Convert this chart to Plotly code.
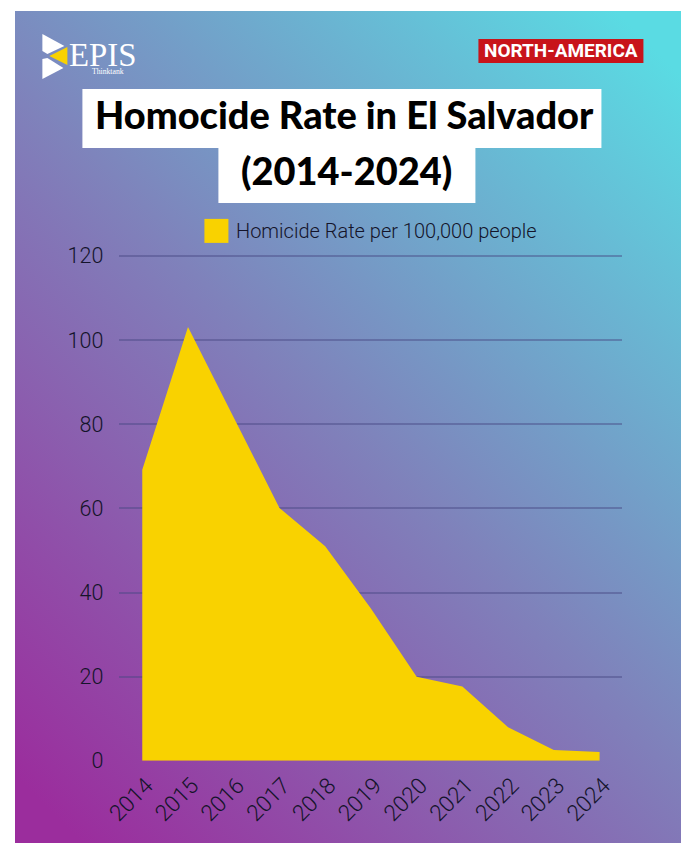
import base64
import plotly.graph_objects as go

W, H = 683, 856

years = ['2014', '2015', '2016', '2017', '2018', '2019', '2020', '2021', '2022', '2023', '2024']
rates = [69.2, 103.1, 81.6, 60.1, 51.0, 36.2, 20.0, 17.7, 8.0, 2.6, 2.1]
series_name = 'Homicide Rate per 100,000 people'
y_ticks = [0, 20, 40, 60, 80, 100, 120]
title_line1 = 'Homocide Rate in El Salvador'
title_line2 = '(2014-2024)'
region_tag = 'NORTH-AMERICA'

YELLOW = '#F9D200'
INK = '#14142a'

# mapping from target-picture pixels to page pixels (the photo is slightly scaled/offset)
SX, OX, SY, OY = 0.978, 13.6, 0.972, 11.1


def rx(x):
    return ((x - OX) / SX) / W


def ry(y):
    return 1 - ((y - OY) / SY) / H


def fs(size):
    return size / ((SX + SY) / 2)


svg = (
    f'<svg xmlns="http://www.w3.org/2000/svg" width="{W}" height="{H}" viewBox="0 0 {W} {H}" '
    'preserveAspectRatio="none"><defs><linearGradient id="g" x1="0.1" y1="1" x2="0.9" y2="0">'
    '<stop offset="0" stop-color="#9b2d9d"/>'
    '<stop offset="0.5" stop-color="#7f82bb"/>'
    '<stop offset="1" stop-color="#5adbe3"/>'
    f'</linearGradient></defs><rect width="{W}" height="{H}" fill="url(#g)"/></svg>'
)
svg_uri = 'data:image/svg+xml;base64,' + base64.b64encode(svg.encode()).decode()

fig = go.Figure()
fig.add_trace(go.Scatter(
    x=years, y=rates, mode='lines', fill='tozeroy',
    line=dict(width=0, color=YELLOW), fillcolor=YELLOW,
    name=series_name, showlegend=False, hoverinfo='x+y'
))


def rect(x0, y0, x1, y1, color):
    return dict(type='rect', xref='paper', yref='paper', x0=rx(x0), x1=rx(x1), y0=ry(y1), y1=ry(y0),
                fillcolor=color, line=dict(width=0))


def poly(pts, color):
    d = 'M ' + ' L '.join(f'{rx(x):.5f},{ry(y):.5f}' for x, y in pts) + ' Z'
    return dict(type='path', xref='paper', yref='paper', path=d, fillcolor=color, line=dict(width=0))


shapes = [
    rect(81, 89, 600, 148, 'white'),
    rect(217, 147, 474, 203, 'white'),
    rect(477, 39, 642, 63, '#c8141a'),
    rect(203, 219, 227, 243, YELLOW),
    poly([(41, 34), (63, 46), (46, 54), (41, 51)], 'white'),
    poly([(48, 56), (66, 47), (66, 65)], YELLOW),
    poly([(41, 59), (46, 58), (62, 68), (41, 79)], 'white'),
]


def ann(text, x, y, size, family, color, weight=400, xanchor='center'):
    return dict(text=text, x=rx(x), y=ry(y), xref='paper', yref='paper', showarrow=False,
                xanchor=xanchor, yanchor='middle',
                font=dict(family=family, size=fs(size), color=color, weight=weight))


annotations = [
    ann(title_line1, 343, 115, 37, 'Lato', 'black', 900),
    ann(title_line2, 345, 171, 37, 'Lato', 'black', 900),
    ann(region_tag, 560, 51, 18.5, 'Roboto', 'white', 700),
    ann(series_name, 233, 231, 19.5, 'Roboto', INK, 300, 'left'),
    ann('EPIS', 66, 55, 32, 'Liberation Serif', 'white', 400, 'left'),
    ann('Thinktank', 89, 72, 7.5, 'Liberation Serif', 'white', 400, 'left'),
]

y_top_val = 120.4
ppu = (761 - 256) / 120
r_top = 761 - y_top_val * ppu

fig.update_layout(
    width=W, height=H,
    margin=dict(l=0, r=0, t=0, b=0),
    paper_bgcolor='white',
    plot_bgcolor='rgba(0,0,0,0)',
    showlegend=False,
    images=[dict(source=svg_uri, xref='paper', yref='paper', x=0, y=1,
                 sizex=1, sizey=1, sizing='stretch', xanchor='left', yanchor='top',
                 layer='below')],
    shapes=shapes,
    annotations=annotations,
    xaxis=dict(domain=[rx(118), rx(621)], type='category', range=[-0.5, 10.5],
               showgrid=False, zeroline=False, showline=False, ticks='',
               tickangle=-45, ticklabelstandoff=6, ticklabelshift=4,
               tickfont=dict(family='Roboto', size=fs(22), color=INK, weight=300)),
    yaxis=dict(domain=[ry(761), ry(r_top)], range=[0, y_top_val], tickvals=y_ticks,
               showgrid=True, gridcolor='rgba(70,70,130,0.45)', gridwidth=1.5,
               zeroline=False, showline=False, ticks='', ticklabelstandoff=15,
               tickfont=dict(family='Roboto', size=fs(21), color=INK, weight=300)),
)

fig.write_html('out.html', config={'displayModeBar': False},
               post_script="document.body.style.margin='0';document.body.style.overflow='hidden';")
